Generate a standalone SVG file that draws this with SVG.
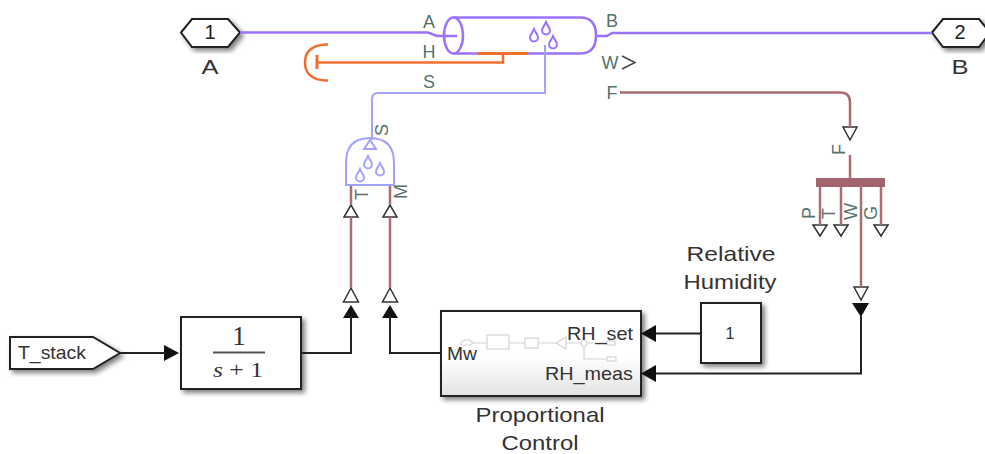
<svg xmlns="http://www.w3.org/2000/svg" width="985" height="454" viewBox="0 0 985 454">
<style>
text{font-family:"Liberation Sans",Arial,sans-serif}
text.frac{font-family:"Liberation Serif","Times New Roman",serif;fill:#333;text-anchor:middle}
.lbl{font-size:21px;fill:#333;text-anchor:middle}
.pt{font-size:18px;fill:#55726e;text-anchor:middle}
.rt{font-size:18px;fill:#55726e}
.in{font-size:18.500px;fill:#333}
.blk{fill:#fff;stroke:#222;stroke-width:2}
.sig{fill:none;stroke:#222;stroke-width:2}
.gas{fill:none;stroke:#9a72ff;stroke-width:2.5}
.th{fill:none;stroke:#ee7030;stroke-width:2.5}
.liq{fill:none;stroke:#a3a3ff;stroke-width:2}
.bus{fill:none;stroke:#a96c72;stroke-width:2.5}
.open{fill:#fff;stroke:#333;stroke-width:1.5}
.fill{fill:#111}
.mini{fill:#fff;stroke:#d4d4d4;stroke-width:1.2}
</style>
<defs>
<filter id="sh" x="-15%" y="-15%" width="135%" height="140%"><feDropShadow dx="3" dy="3" stdDeviation="2.5" flood-color="#000" flood-opacity=".5"/></filter>
<linearGradient id="gr" x1="0" y1="0" x2="0" y2="1"><stop offset=".55" stop-color="#fff"/><stop offset="1" stop-color="#e2e2e2"/></linearGradient>
<path id="drop" d="M0-7C1.500-3 4-1.500 4 1.500A4 4 0 0 1-4 1.500C-4-1.500-1.500-3 0-7Z" fill="#fff"/>
</defs>
<rect width="985" height="454" fill="#fff"/>
<g id="port1">
<path class="blk" d="M181 32.500L192 19H228L240 32.500L228 47H192Z" filter="url(#sh)"/>
<text x="210" y="39" font-size="20" fill="#222" text-anchor="middle">1</text>
<text class="lbl" x="210" y="74" textLength="17" lengthAdjust="spacingAndGlyphs">A</text>
</g>
<g id="port2">
<path class="blk" d="M932 32.500L943 19H979L990 32.500L979 47H943Z" filter="url(#sh)"/>
<text x="960" y="39" font-size="20" fill="#222" text-anchor="middle">2</text>
<text class="lbl" x="960" y="74" textLength="17" lengthAdjust="spacingAndGlyphs">B</text>
</g>
<g id="humidifier">
<path class="gas" d="M453 17.500H580Q596 17.500 596 35.500T580 53.500H453"/>
<ellipse class="gas" cx="453.500" cy="35.500" rx="9.500" ry="18"/>
<g class="gas" style="stroke-width:2">
<use href="#drop" x="534" y="36" stroke="#9a72ff"/>
<use href="#drop" x="546" y="29" stroke="#9a72ff"/>
<use href="#drop" x="553" y="43" stroke="#9a72ff"/>
</g>
<text class="pt" x="429" y="28">A</text>
<text class="pt" x="429" y="58">H</text>
<text class="pt" x="429" y="88">S</text>
<text class="pt" x="612" y="27">B</text>
<text class="pt" x="610" y="69">W</text>
<path d="M622 56L635 62.500L622 69" fill="none" stroke="#444" stroke-width="1.500"/>
<text class="pt" x="612" y="99">F</text>
</g>
<g id="cap">
<path class="th" d="M328 44.500H325Q305 46 305 62.500T325 80.500H328"/>
<path class="th" d="M317 55V69" style="stroke-width:3"/>
</g>
<g id="source">
<path d="M346 185V163Q346 138 370 138T394 163V185Z" fill="#fff" stroke="#a3a3ff" stroke-width="2"/>
<path d="M364 149L370 140L376 149Z" fill="#fff" stroke="#a3a3ff" stroke-width="2"/>
<use href="#drop" x="368" y="163" stroke="#a3a3ff" stroke-width="2"/>
<use href="#drop" x="380" y="170" stroke="#a3a3ff" stroke-width="2"/>
<use href="#drop" x="360" y="176" stroke="#a3a3ff" stroke-width="2"/>
<text class="rt" transform="translate(388 136) rotate(-90)">S</text>
<text class="rt" transform="translate(368 200) rotate(-90)">T</text>
<text class="rt" transform="translate(407 199) rotate(-90)">M</text>
</g>
<g id="arrows-source">
<path class="open" d="M351 205L344 217H358Z"/>
<path class="open" d="M390 205L383 217H397Z"/>
<path class="open" d="M351 288L343.500 302H358.500Z"/>
<path class="open" d="M390 288L382.500 302H397.500Z"/>
<path class="fill" d="M351 305L343 318H359Z"/>
<path class="fill" d="M390 305L382 318H398Z"/>
</g>
<g id="selector">
<path class="open" d="M843 127H857L850 140Z"/>
<text class="rt" transform="translate(845 155) rotate(-90)">F</text>
<rect x="816" y="178" width="69" height="9" fill="#a3636c"/>
<text class="rt" transform="translate(815 219) rotate(-90)">P</text>
<text class="rt" transform="translate(835 219) rotate(-90)">T</text>
<text class="rt" transform="translate(857 220) rotate(-90)">W</text>
<text class="rt" transform="translate(877 220) rotate(-90)">G</text>
<path class="open" d="M813 225H827L820 236Z"/>
<path class="open" d="M834 225H848L841 236Z"/>
<path class="open" d="M874 225H888L881 236Z"/>
<path class="open" d="M854 287H868L861 300Z"/>
<path class="fill" d="M852 303H869L861 317Z"/>
</g>
<g id="t_stack">
<path class="blk" d="M10 337H93L120 353L93 369H10Z" filter="url(#sh)"/>
<text class="in" x="18" y="359" textLength="68" lengthAdjust="spacingAndGlyphs">T_stack</text>
<path class="fill" d="M164 345L179 353L164 361Z"/>
</g>
<g id="lag">
<rect class="blk" x="181" y="317" width="120" height="72" filter="url(#sh)"/>
<text class="frac" x="239" y="345" font-size="27">1</text>
<path d="M213 352.500H265" stroke="#555" stroke-width="2"/>
<text class="frac" x="238" y="377" font-size="22" textLength="50" lengthAdjust="spacingAndGlyphs"><tspan font-style="italic">s</tspan> + 1</text>
</g>
<g id="control">
<rect x="441" y="311" width="200" height="85" fill="url(#gr)" stroke="#222" stroke-width="2" filter="url(#sh)"/>
<g>
<path d="M473 343H487M509 343H525M538 343H556M566 343H607M584 343V359H607" fill="none" stroke="#d4d4d4" stroke-width="1.200"/>
<path class="mini" d="M461 345V342L465 340H470L473 343L470 345Z"/>
<rect class="mini" x="487" y="335" width="22" height="14"/>
<rect class="mini" x="525" y="338" width="13" height="10"/>
<path class="mini" d="M566 337V349L556 343Z"/>
<circle class="mini" cx="584" cy="343" r="3"/>
<rect class="mini" x="607" y="341" width="8" height="4"/>
<rect class="mini" x="607" y="357" width="9" height="4"/>
</g>
<text class="in" x="447" y="360" textLength="30" lengthAdjust="spacingAndGlyphs">Mw</text>
<text class="in" x="567" y="340" textLength="66" lengthAdjust="spacingAndGlyphs">RH_set</text>
<text class="in" x="545" y="380" textLength="88" lengthAdjust="spacingAndGlyphs">RH_meas</text>
<path class="fill" d="M641 333.500L656 325V342Z"/>
<path class="fill" d="M641 373.500L656 365V382Z"/>
<text class="lbl" x="540" y="422" textLength="129" lengthAdjust="spacingAndGlyphs">Proportional</text>
<text class="lbl" x="540" y="450" textLength="77" lengthAdjust="spacingAndGlyphs">Control</text>
</g>
<g id="constant">
<rect class="blk" x="701" y="303" width="60" height="60" filter="url(#sh)"/>
<text x="730" y="339" font-size="16" fill="#333" text-anchor="middle">1</text>
<text class="lbl" x="731" y="261" textLength="89" lengthAdjust="spacingAndGlyphs">Relative</text>
<text class="lbl" x="730" y="289" textLength="93" lengthAdjust="spacingAndGlyphs">Humidity</text>
</g>
<g id="connectors">
<path class="gas" d="M240 32.500H428L437 36H457"/>
<path class="gas" d="M596 36H607L612 33H932"/>
<path class="th" d="M317 62.500H503V53"/>
<path class="th" d="M478 53.500H528" style="stroke-width:3"/>
<path class="liq" d="M545 45V93H378Q372 93 372 99V140"/>
<path class="bus" d="M620 92.500H840Q850 92.500 850 102V127"/>
<path class="bus" d="M850 155V178"/>
<path class="bus" d="M351 186V205M351 217V288"/>
<path class="bus" d="M390 186V205M390 217V288"/>
<path class="bus" d="M820 187V225M841 187V225M861 187V287M881 187V225"/>
<path class="sig" d="M120 353H166"/>
<path class="sig" d="M301 353H351V316"/>
<path class="sig" d="M441 353H390V316"/>
<path class="sig" d="M656 333.500H701"/>
<path class="sig" d="M656 373.500H861V316"/>
</g>
</svg>
